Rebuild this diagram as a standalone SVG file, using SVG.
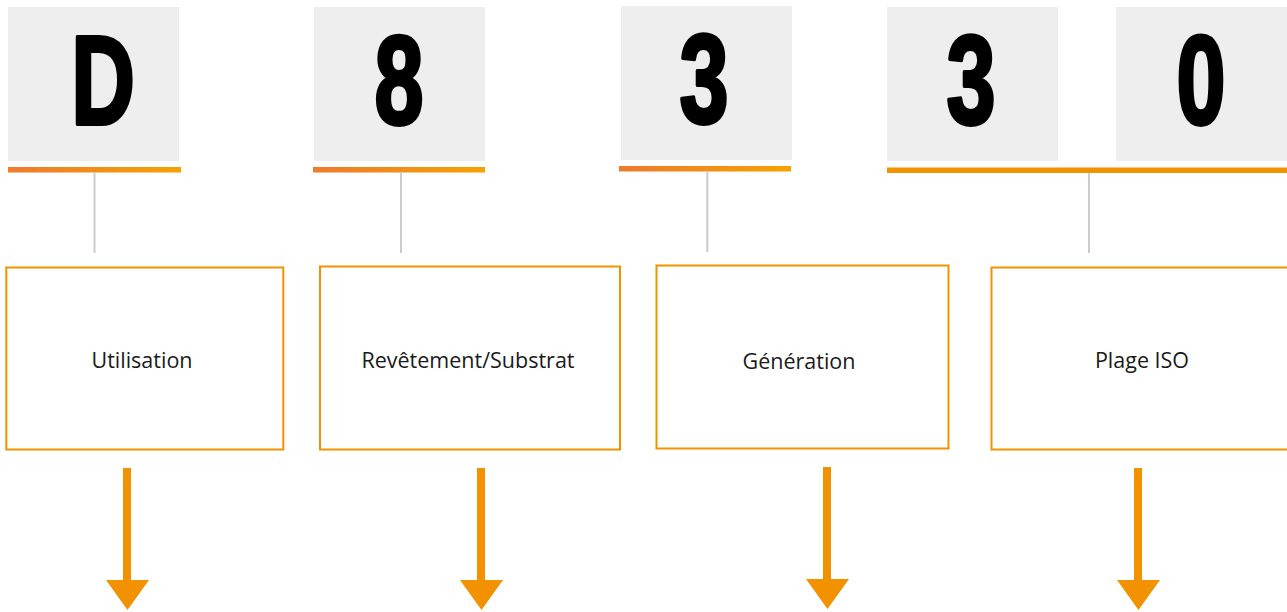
<svg xmlns="http://www.w3.org/2000/svg" width="1287" height="612" viewBox="0 0 1287 612">
<defs>
<linearGradient id="ug" x1="0" y1="0" x2="1" y2="0">
<stop offset="0" stop-color="#EF7A2D"/>
<stop offset="1" stop-color="#F6A200"/>
</linearGradient>
<style>
.tile{fill:#EEEEEE}
.big{font-family:"Liberation Sans",Arial,sans-serif;font-weight:bold;font-size:126px;fill:#000;stroke:#000;stroke-width:4;stroke-linejoin:round;text-anchor:middle}
.box{fill:#fff;stroke:#F39200;stroke-width:2}
.lbl{font-family:"Open Sans","Noto Sans",sans-serif;font-size:21.5px;fill:#1a1a1a;text-anchor:middle}
.stem{stroke:#CCCCCC;stroke-width:2;fill:none}
.arr{fill:#F39200}
</style>
</defs>
<g id="tile-D"><rect class="tile" x="8" y="7" width="171" height="154"/><text class="big" transform="translate(103,124) scale(0.7,1)">D</text><rect x="8" y="167" width="173" height="5.5" fill="url(#ug)"/></g>
<g id="tile-8"><rect class="tile" x="314" y="7" width="171" height="154"/><text class="big" transform="translate(399,124) scale(0.7,1)">8</text><rect x="313" y="167" width="172" height="5.5" fill="url(#ug)"/></g>
<g id="tile-3a"><rect class="tile" x="621" y="6" width="171" height="154"/><text class="big" transform="translate(704,123) scale(0.7,1)">3</text><rect x="619" y="166" width="172" height="5.5" fill="url(#ug)"/></g>
<g id="tile-3b"><rect class="tile" x="887" y="7" width="171" height="154"/><text class="big" transform="translate(971,124) scale(0.7,1)">3</text></g>
<g id="tile-0"><rect class="tile" x="1116" y="7" width="171" height="154"/><text class="big" transform="translate(1201,124) scale(0.7,1)">0</text></g>
<rect x="887" y="167.5" width="400" height="5.5" fill="#F39200"/>
<g id="connectors">
<line class="stem" x1="94.5" y1="172" x2="94.5" y2="253"/>
<line class="stem" x1="401" y1="172" x2="401" y2="253"/>
<line class="stem" x1="707.3" y1="171" x2="707.3" y2="252"/>
<line class="stem" x1="1089" y1="173" x2="1089" y2="253"/>
<rect class="arr" x="123" y="468" width="8" height="114"/><polygon class="arr" points="106,580 149,580 127.5,610"/>
<rect class="arr" x="477" y="468" width="8" height="114"/><polygon class="arr" points="460,580 503,580 481.5,610"/>
<rect class="arr" x="823" y="467" width="8" height="114"/><polygon class="arr" points="806,579 849,579 827.5,609"/>
<rect class="arr" x="1134" y="468" width="8" height="114"/><polygon class="arr" points="1117,580 1160,580 1138.5,610"/>
</g>
<g id="node-utilisation"><rect class="box" x="6.3" y="267.5" width="277" height="182"/><text class="lbl" x="142" y="368">Utilisation</text></g>
<g id="node-revetement"><rect class="box" x="320" y="266.5" width="300" height="183"/><text class="lbl" x="468" y="368">Revêtement/Substrat</text></g>
<g id="node-generation"><rect class="box" x="656.5" y="265.5" width="292" height="183"/><text class="lbl" x="799" y="369">Génération</text></g>
<g id="node-plage"><rect class="box" x="991.5" y="267.5" width="300" height="182"/><text class="lbl" x="1142" y="368">Plage ISO</text></g>
</svg>
